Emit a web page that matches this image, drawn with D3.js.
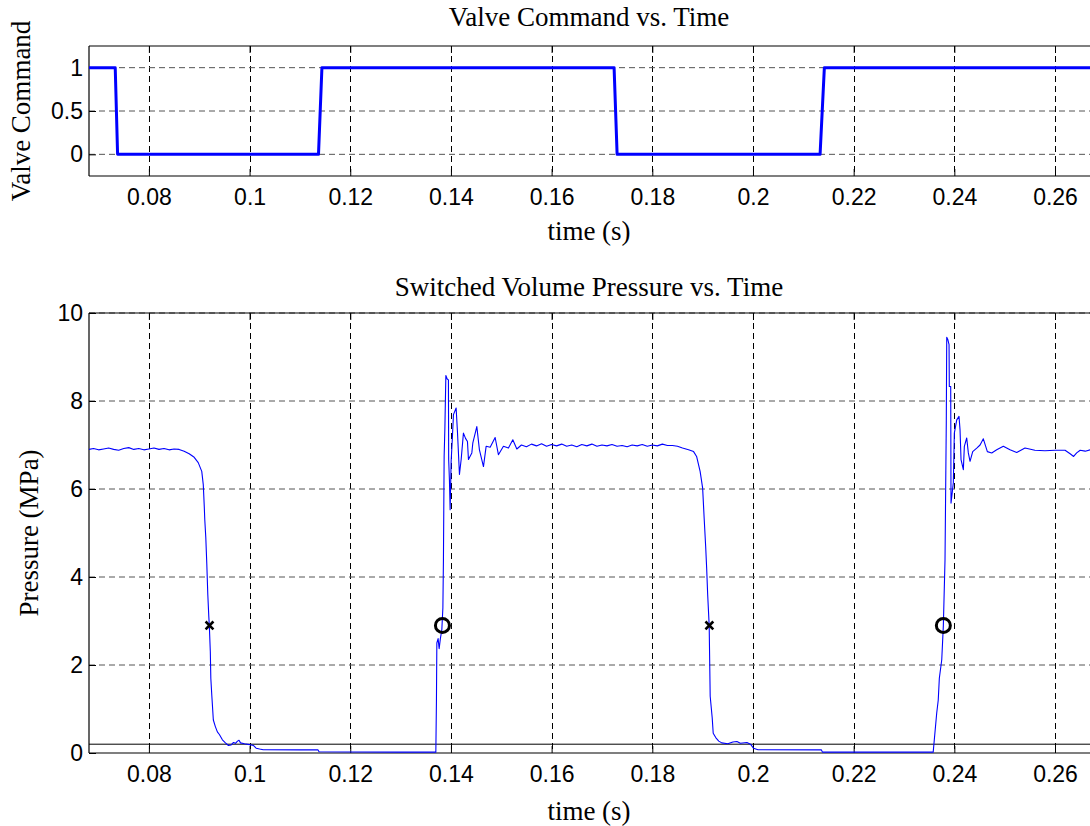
<!DOCTYPE html>
<html>
<head>
<meta charset="utf-8">
<script src="https://cdn.jsdelivr.net/npm/d3@7"></script>
<style>
  html, body { margin: 0; padding: 0; background: #fff; }
  svg { display: block; }
  .tick text { font-family: "Liberation Sans", Arial, sans-serif; font-size: 23px; fill: #000; }
  .serif { font-family: "Liberation Serif", "Times New Roman", serif; font-size: 27px; fill: #000; }
</style>
</head>
<body>
<svg id="chart" width="1090" height="826"></svg>
<script>
// Valve command step signal (s, 0/1)
const valveTime = [0.0681, 0.07331, 0.07378, 0.11369, 0.11437, 0.17241, 0.17301, 0.21333, 0.21418, 0.2687];
const valveCmd  = [1, 1, 0, 0, 1, 1, 0, 0, 1, 1];

// Switched volume pressure trace (s, MPa)
const pressureTime = [
  0.0681, 0.0690, 0.0700, 0.0710, 0.0720, 0.0730, 0.0740, 0.0750, 0.0760, 0.0770,
  0.0780, 0.0790, 0.0800, 0.0810, 0.0820, 0.0830, 0.0840, 0.0850, 0.0860, 0.0870,
  0.0880, 0.0890, 0.0898, 0.0905, 0.0908, 0.0910, 0.0911, 0.0913, 0.0915, 0.0917,
  0.0919, 0.0920, 0.0922, 0.0923, 0.0925, 0.0928, 0.0932, 0.0936, 0.0940, 0.0946,
  0.0952, 0.0958, 0.0963, 0.0968, 0.0972, 0.0976, 0.0979, 0.0982, 0.0990, 0.1000,
  0.1008, 0.1013, 0.1020, 0.1027, 0.1100, 0.1136, 0.1138, 0.1300, 0.1370,
  0.13712, 0.13720, 0.13745, 0.13766, 0.13790, 0.13819, 0.13840, 0.13851, 0.13865, 0.13880,
  0.13899, 0.13925, 0.13950, 0.13955, 0.13970, 0.13984, 0.14004, 0.14030, 0.14050, 0.14103,
  0.14129, 0.14169, 0.14203, 0.14248, 0.14290, 0.14328, 0.14348, 0.14415, 0.14435, 0.14514,
  0.14566, 0.14646, 0.14699, 0.14779, 0.14878, 0.14943, 0.15043, 0.15142, 0.15229, 0.15309,
  0.1540, 0.1550, 0.1560, 0.1570, 0.1580, 0.1590, 0.1600, 0.1610, 0.1620, 0.1630,
  0.1640, 0.1650, 0.1660, 0.1670, 0.1680, 0.1690, 0.1700, 0.1710, 0.1720, 0.1730,
  0.1740, 0.1750, 0.1760, 0.1770, 0.1780, 0.1790, 0.1800, 0.1810, 0.1820, 0.1830,
  0.1840, 0.1850, 0.1860, 0.1872, 0.1882, 0.1888, 0.1895, 0.1900, 0.1903, 0.1906,
  0.1908, 0.1910, 0.1913, 0.1915, 0.1919, 0.1921, 0.1926, 0.1932, 0.1938, 0.1950,
  0.1960, 0.1968, 0.1975, 0.1988, 0.1995, 0.2001, 0.2010, 0.2136, 0.2138, 0.2358,
  0.23650, 0.23680, 0.23702, 0.23750, 0.23782, 0.23815, 0.23840, 0.23849, 0.23870, 0.23895,
  0.23900, 0.23928, 0.23934, 0.23980, 0.24000, 0.24048, 0.24093, 0.24113, 0.24133, 0.24179,
  0.24199, 0.24246, 0.24278, 0.24312, 0.24365, 0.24445, 0.24511, 0.24576, 0.24656, 0.24743,
  0.24842, 0.24973, 0.25106, 0.25239, 0.25404, 0.2560, 0.2580, 0.2600, 0.2620, 0.2630,
  0.2637, 0.2643, 0.2650, 0.2660, 0.2670, 0.2687
];
const pressureMPa = [
  6.90, 6.92, 6.89, 6.91, 6.93, 6.90, 6.88, 6.92, 6.94, 6.90,
  6.92, 6.89, 6.91, 6.93, 6.90, 6.92, 6.89, 6.91, 6.90, 6.86,
  6.80, 6.72, 6.60, 6.40, 6.10, 5.60, 5.30, 4.90, 4.30, 3.60,
  3.10, 2.90, 2.30, 1.70, 1.30, 0.75, 0.60, 0.48, 0.42, 0.30,
  0.23, 0.17, 0.18, 0.24, 0.22, 0.27, 0.29, 0.23, 0.21, 0.19,
  0.17, 0.11, 0.09, 0.075, 0.07, 0.07, 0.03, 0.02, 0.02,
  1.2, 2.5, 2.6, 2.37, 2.6, 2.8, 3.3, 4.4, 6.74, 7.4,
  8.58, 8.50, 8.48, 6.67, 6.2, 5.53, 6.63, 7.2, 7.69, 7.84,
  7.31, 6.33, 6.67, 7.27, 7.15, 7.08, 6.67, 6.82, 7.05, 7.42,
  6.89, 6.51, 6.97, 6.95, 7.17, 6.78, 6.97, 6.93, 7.12, 6.91,
  7.00, 6.96, 7.02, 6.98, 7.03, 6.97, 7.01, 6.98, 7.02, 6.97,
  7.00, 6.96, 7.01, 6.98, 7.02, 6.97, 7.00, 6.98, 7.01, 6.97,
  6.99, 6.96, 7.00, 6.98, 7.01, 6.97, 7.00, 6.98, 7.02, 6.99,
  6.99, 6.97, 6.93, 6.89, 6.85, 6.74, 6.40, 6.02, 5.34, 4.70,
  4.20, 3.60, 2.90, 1.29, 0.80, 0.45, 0.35, 0.27, 0.23, 0.21,
  0.25, 0.26, 0.22, 0.24, 0.20, 0.11, 0.075, 0.07, 0.02, 0.02,
  0.91, 1.2, 1.70, 2.12, 2.90, 4.4, 7.5, 9.45, 9.40, 9.28,
  8.33, 8.33, 5.68, 6.14, 7.27, 7.57, 7.65, 7.35, 6.67, 6.44,
  6.97, 7.16, 6.82, 6.63, 6.85, 6.93, 7.00, 7.14, 6.85, 6.82,
  6.89, 6.97, 6.89, 6.83, 6.93, 6.88, 6.87, 6.88, 6.88, 6.80,
  6.74, 6.82, 6.88, 6.86, 6.89, 6.88
];

// Valve closing (x) and opening (o) instants on the pressure trace
const closeTime = [0.09204, 0.19134];
const closeMPa  = [2.9, 2.9];
const openTime  = [0.13831, 0.23782];
const openMPa   = [2.9, 2.9];

// Axis settings
const xDomain = [0.0681, 0.26695];
const xTicks = [0.08, 0.1, 0.12, 0.14, 0.16, 0.18, 0.2, 0.22, 0.24, 0.26];
const xTickLabels = ["0.08", "0.1", "0.12", "0.14", "0.16", "0.18", "0.2", "0.22", "0.24", "0.26"];
const valveTicks = [0, 0.5, 1];
const valveTickLabels = ["0", "0.5", "1"];
const pressureTicks = [0, 2, 4, 6, 8, 10];
const pressureTickLabels = ["0", "2", "4", "6", "8", "10"];
const thresholdMPa = 0.2;

const svg = d3.select("#chart");
svg.append("rect").attr("width", 1090).attr("height", 826).attr("fill", "#fff");

const plotLeft = 89, plotRight = 1090;

function panel(cfg) {
  const x = d3.scaleLinear().domain(xDomain).range([plotLeft, plotRight]);
  const y = d3.scaleLinear().domain(cfg.yDomain).range([cfg.bottom, cfg.top]);
  const g = svg.append("g");

  // dashed grid
  const grid = g.append("g").attr("stroke", "#000").attr("stroke-width", 1)
    .attr("stroke-dasharray", "6,4").attr("fill", "none");
  grid.selectAll("line.vx").data(xTicks).join("line")
    .attr("x1", d => Math.round(x(d)) + 0.5).attr("x2", d => Math.round(x(d)) + 0.5)
    .attr("y1", cfg.top).attr("y2", cfg.bottom);
  grid.selectAll("line.hy").data(cfg.yTicks.filter(d => d !== cfg.yDomain[0]))
    .join("line")
    .attr("x1", plotLeft).attr("x2", plotRight)
    .attr("y1", d => y(d)).attr("y2", d => y(d))
    .attr("stroke", "#555");

  // box edges
  const box = g.append("g").attr("stroke", "#000").attr("stroke-width", 1.2).attr("fill", "none");
  box.append("line").attr("x1", plotLeft).attr("x2", plotRight).attr("y1", cfg.top).attr("y2", cfg.top);
  box.append("line").attr("x1", plotLeft).attr("x2", plotRight).attr("y1", cfg.bottom).attr("y2", cfg.bottom);
  box.append("line").attr("x1", plotLeft).attr("x2", plotLeft).attr("y1", cfg.top).attr("y2", cfg.bottom);

  // axes with inward ticks
  const xAxis = d3.axisBottom(x).tickValues(xTicks)
    .tickFormat((d, i) => xTickLabels[i]).tickSizeInner(-7).tickSizeOuter(0).tickPadding(13);
  const ax = g.append("g").attr("transform", `translate(0,${cfg.bottom})`).call(xAxis);
  ax.select(".domain").remove();

  const xTop = d3.axisTop(x).tickValues(xTicks).tickFormat("").tickSizeInner(-7).tickSizeOuter(0);
  const at = g.append("g").attr("transform", `translate(0,${cfg.top})`).call(xTop);
  at.select(".domain").remove();

  const yAxis = d3.axisLeft(y).tickValues(cfg.yTicks)
    .tickFormat((d, i) => cfg.yTickLabels[i]).tickSizeInner(-7).tickSizeOuter(0).tickPadding(6);
  const ay = g.append("g").attr("transform", `translate(${plotLeft},0)`).call(yAxis);
  ay.select(".domain").remove();

  g.selectAll(".tick line").attr("stroke", "#000");

  // clip region for data
  const clipId = "clip" + cfg.id;
  svg.append("clipPath").attr("id", clipId).append("rect")
    .attr("x", plotLeft).attr("y", cfg.top - 2).attr("width", plotRight - plotLeft + 5).attr("height", cfg.bottom - cfg.top + 4);

  // labels
  svg.append("text").attr("class", "serif").attr("text-anchor", "middle")
    .attr("x", 589).attr("y", cfg.titleY).text(cfg.title);
  svg.append("text").attr("class", "serif").attr("text-anchor", "middle")
    .attr("x", 589).attr("y", cfg.xlabelY).text("time (s)");
  svg.append("text").attr("class", "serif").attr("text-anchor", "middle")
    .attr("transform", `translate(${cfg.ylabelX},${(cfg.top + cfg.bottom) / 2}) rotate(-90)`)
    .text(cfg.ylabel);

  return { x, y, g, clipId };
}

// Upper panel: valve command
const valvePanel = panel({
  id: "valve", top: 46, bottom: 176, yDomain: [-0.25, 1.25],
  yTicks: valveTicks, yTickLabels: valveTickLabels,
  title: "Valve Command vs. Time", titleY: 26, xlabelY: 240,
  ylabel: "Valve Command", ylabelX: 30
});
valvePanel.g.append("path")
  .attr("clip-path", `url(#${valvePanel.clipId})`)
  .attr("fill", "none").attr("stroke", "#0000ff").attr("stroke-width", 3)
  .attr("stroke-linejoin", "round")
  .attr("d", d3.line().x((d, i) => valvePanel.x(valveTime[i])).y((d, i) => valvePanel.y(valveCmd[i]))(valveTime));

// Lower panel: switched volume pressure
const pressurePanel = panel({
  id: "pressure", top: 313, bottom: 753, yDomain: [0, 10],
  yTicks: pressureTicks, yTickLabels: pressureTickLabels,
  title: "Switched Volume Pressure vs. Time", titleY: 296, xlabelY: 820,
  ylabel: "Pressure (MPa)", ylabelX: 38
});

// threshold reference line
pressurePanel.g.append("line")
  .attr("x1", plotLeft).attr("x2", plotRight)
  .attr("y1", pressurePanel.y(thresholdMPa)).attr("y2", pressurePanel.y(thresholdMPa))
  .attr("stroke", "#000").attr("stroke-width", 1);

pressurePanel.g.append("path")
  .attr("clip-path", `url(#${pressurePanel.clipId})`)
  .attr("fill", "none").attr("stroke", "#0000ff").attr("stroke-width", 1.1)
  .attr("stroke-linejoin", "round")
  .attr("d", d3.line().x((d, i) => pressurePanel.x(pressureTime[i])).y((d, i) => pressurePanel.y(pressureMPa[i]))(pressureTime));

// closing markers (x)
const xm = pressurePanel.g.append("g").attr("stroke", "#000").attr("stroke-width", 2.6).attr("stroke-linecap", "square");
closeTime.forEach((t, i) => {
  const cx = pressurePanel.x(t), cy = pressurePanel.y(closeMPa[i]), s = 3;
  xm.append("line").attr("x1", cx - s).attr("y1", cy - s).attr("x2", cx + s).attr("y2", cy + s);
  xm.append("line").attr("x1", cx - s).attr("y1", cy + s).attr("x2", cx + s).attr("y2", cy - s);
});

// opening markers (o)
pressurePanel.g.append("g").selectAll("circle").data(openTime).join("circle")
  .attr("cx", d => pressurePanel.x(d)).attr("cy", (d, i) => pressurePanel.y(openMPa[i]))
  .attr("r", 7).attr("fill", "none").attr("stroke", "#000").attr("stroke-width", 3);
</script>
</body>
</html>
